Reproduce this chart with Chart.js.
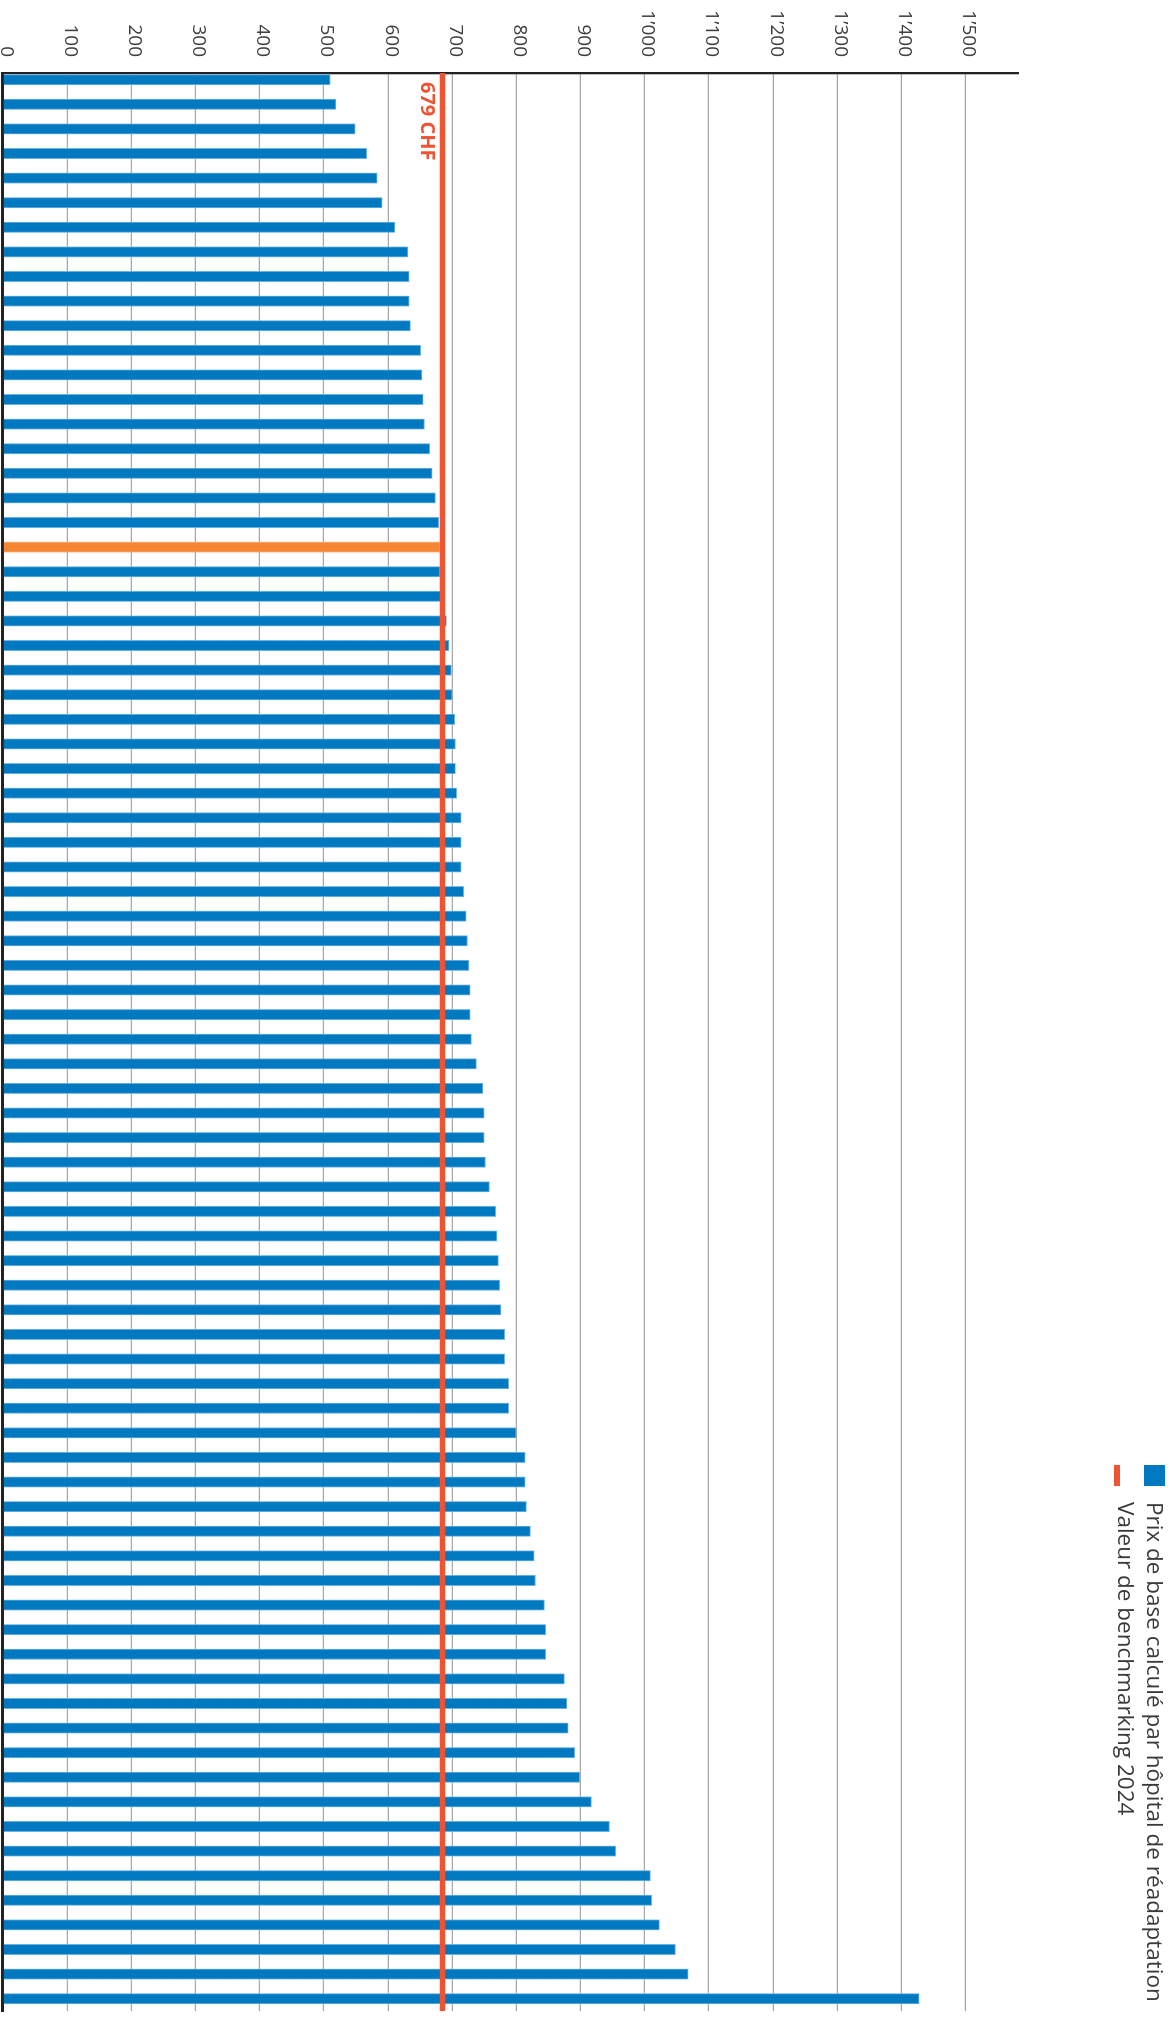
<!DOCTYPE html>
<html lang="fr">
<head>
<meta charset="utf-8">
<title>Prix de base calculé par hôpital de réadaptation</title>
<script src="https://cdn.jsdelivr.net/npm/chart.js@4.4.1/dist/chart.umd.min.js"></script>
<style>
  html, body { margin: 0; padding: 0; background: #fff; overflow: hidden; }
  body { width: 1172px; height: 2026px; position: relative; }
  /* le graphique est dessiné en colonnes puis tourné de 90° */
  #stage {
    position: absolute; left: 0; top: 0;
    width: 2026px; height: 1172px;
    transform-origin: 0 0;
    transform: translateX(1172px) rotate(90deg);
  }
  #chart { position: absolute; left: 0; top: 0; }
  .item {
    position: absolute; left: 1465px;
    font-family: "Open Sans", sans-serif; font-size: 22.5px; line-height: 28px;
    color: #3a3a3a; white-space: nowrap;
  }
  .item .txt { position: absolute; left: 37px; top: 0; }
  .box { position: absolute; left: 0; }
</style>
</head>
<body>
<div id="stage">
  <canvas id="chart" width="2026" height="1172"></canvas>
  <div class="item" id="leg1" style="top:3px"><span class="box" style="top:4px;width:21px;height:21px;background:#0079C1"></span><span class="txt"></span></div>
  <div class="item" id="leg2" style="top:32px"><span class="box" style="top:20px;width:21px;height:6px;background:#EF5432"></span><span class="txt"></span></div>
</div>
<script>
// Prix de base par hôpital, triés (CHF)
const prices = [
  510, 519, 549, 567, 583, 591, 611, 631, 633, 633,
  635, 651, 653, 655, 657, 665, 669, 674, 679, 681,
  681, 686, 691, 695, 699, 700, 704, 705, 705, 707,
  714, 714, 714, 718, 722, 724, 726, 728, 728, 730,
  738, 748, 750, 750, 752, 758, 768, 770, 772, 774,
  776, 782, 782, 788, 788, 800, 814, 814, 816, 822,
  828, 830, 844, 846, 846, 875, 879, 881, 891, 899,
  917, 945, 955, 1009, 1011, 1023, 1048, 1068, 1428
];
const highlightIndex = 19;          // barre en orange
const benchmarkValue = 685;         // position de la ligne rouge
const benchmarkLabel = '679 CHF';

const valueTicks = [0, 100, 200, 300, 400, 500, 600, 700, 800, 900, 1000, 1100, 1200, 1300, 1400, 1500];
const tickLabels = ['0', '100', '200', '300', '400', '500', '600', '700', '800', '900',
  '1’000', '1’100', '1’200', '1’300', '1’400', '1’500'];
const seriesLabels = ['Prix de base calculé par hôpital de réadaptation', 'Valeur de benchmarking 2024'];

const indexMin = -0.272;
const indexMax = 78.5;
const valueMax = 1582;

const BLUE = '#0079C1';
const ORANGE = '#F58634';
const RED = '#EF5432';

document.querySelector('#leg1 .txt').textContent = seriesLabels[0];
document.querySelector('#leg2 .txt').textContent = seriesLabels[1];

// texte "679 CHF" sous la ligne
const benchmarkText = {
  id: 'benchmarkText',
  afterDatasetsDraw(chart) {
    const { ctx, chartArea, scales } = chart;
    const y = scales.y.getPixelForValue(benchmarkValue);
    ctx.save();
    ctx.font = 'bold 20px "Open Sans", sans-serif';
    ctx.fillStyle = RED;
    ctx.textBaseline = 'alphabetic';
    ctx.fillText(benchmarkLabel, chartArea.left + 9, y + 21.5);
    ctx.restore();
  }
};

new Chart(document.getElementById('chart'), {
  type: 'bar',
  data: {
    datasets: [{
      type: 'line',
      label: seriesLabels[1],
      data: [{ x: indexMin, y: benchmarkValue }, { x: indexMax, y: benchmarkValue }],
      borderColor: RED,
      borderWidth: 5.7,
      pointRadius: 0,
      order: 0
    }, {
      label: seriesLabels[0],
      data: prices.map((v, i) => ({ x: i, y: v })),
      backgroundColor: ctx => ctx.dataIndex === highlightIndex ? ORANGE : BLUE,
      borderColor: ctx => ctx.dataIndex === highlightIndex ? '#f9b27d' : '#6fb3e3',
      borderWidth: 1,
      barThickness: 10.4,
      order: 1
    }]
  },
  options: {
    responsive: false,
    animation: false,
    devicePixelRatio: 1,
    layout: { padding: { top: 154, right: 15, bottom: 3, left: 0 } },
    plugins: { legend: { display: false }, tooltip: { enabled: false } },
    scales: {
      x: {
        type: 'linear',
        min: indexMin,
        max: indexMax,
        offset: false,
        bounds: 'ticks',
        ticks: { display: false },
        grid: { display: false, offset: false },
        border: { display: true, color: '#222', width: 3 },
        afterFit(scale) { scale.height = 0; scale.paddingLeft = 0; scale.paddingRight = 0; }
      },
      y: {
        min: 0,
        max: valueMax,
        afterBuildTicks(scale) { scale.ticks = valueTicks.map(v => ({ value: v })); },
        ticks: {
          padding: 16,
          labelOffset: -3,
          color: '#3c3c3c',
          font: { family: '"Open Sans", sans-serif', size: 19 },
          callback: (v, i) => tickLabels[i]
        },
        grid: { color: '#a8a8a8', lineWidth: 1.3, drawTicks: false },
        border: { display: true, color: '#222', width: 2.3 },
        afterFit(scale) { scale.width = 73; scale.paddingTop = 0; scale.paddingBottom = 0; }
      }
    }
  },
  plugins: [benchmarkText]
});
</script>
</body>
</html>
